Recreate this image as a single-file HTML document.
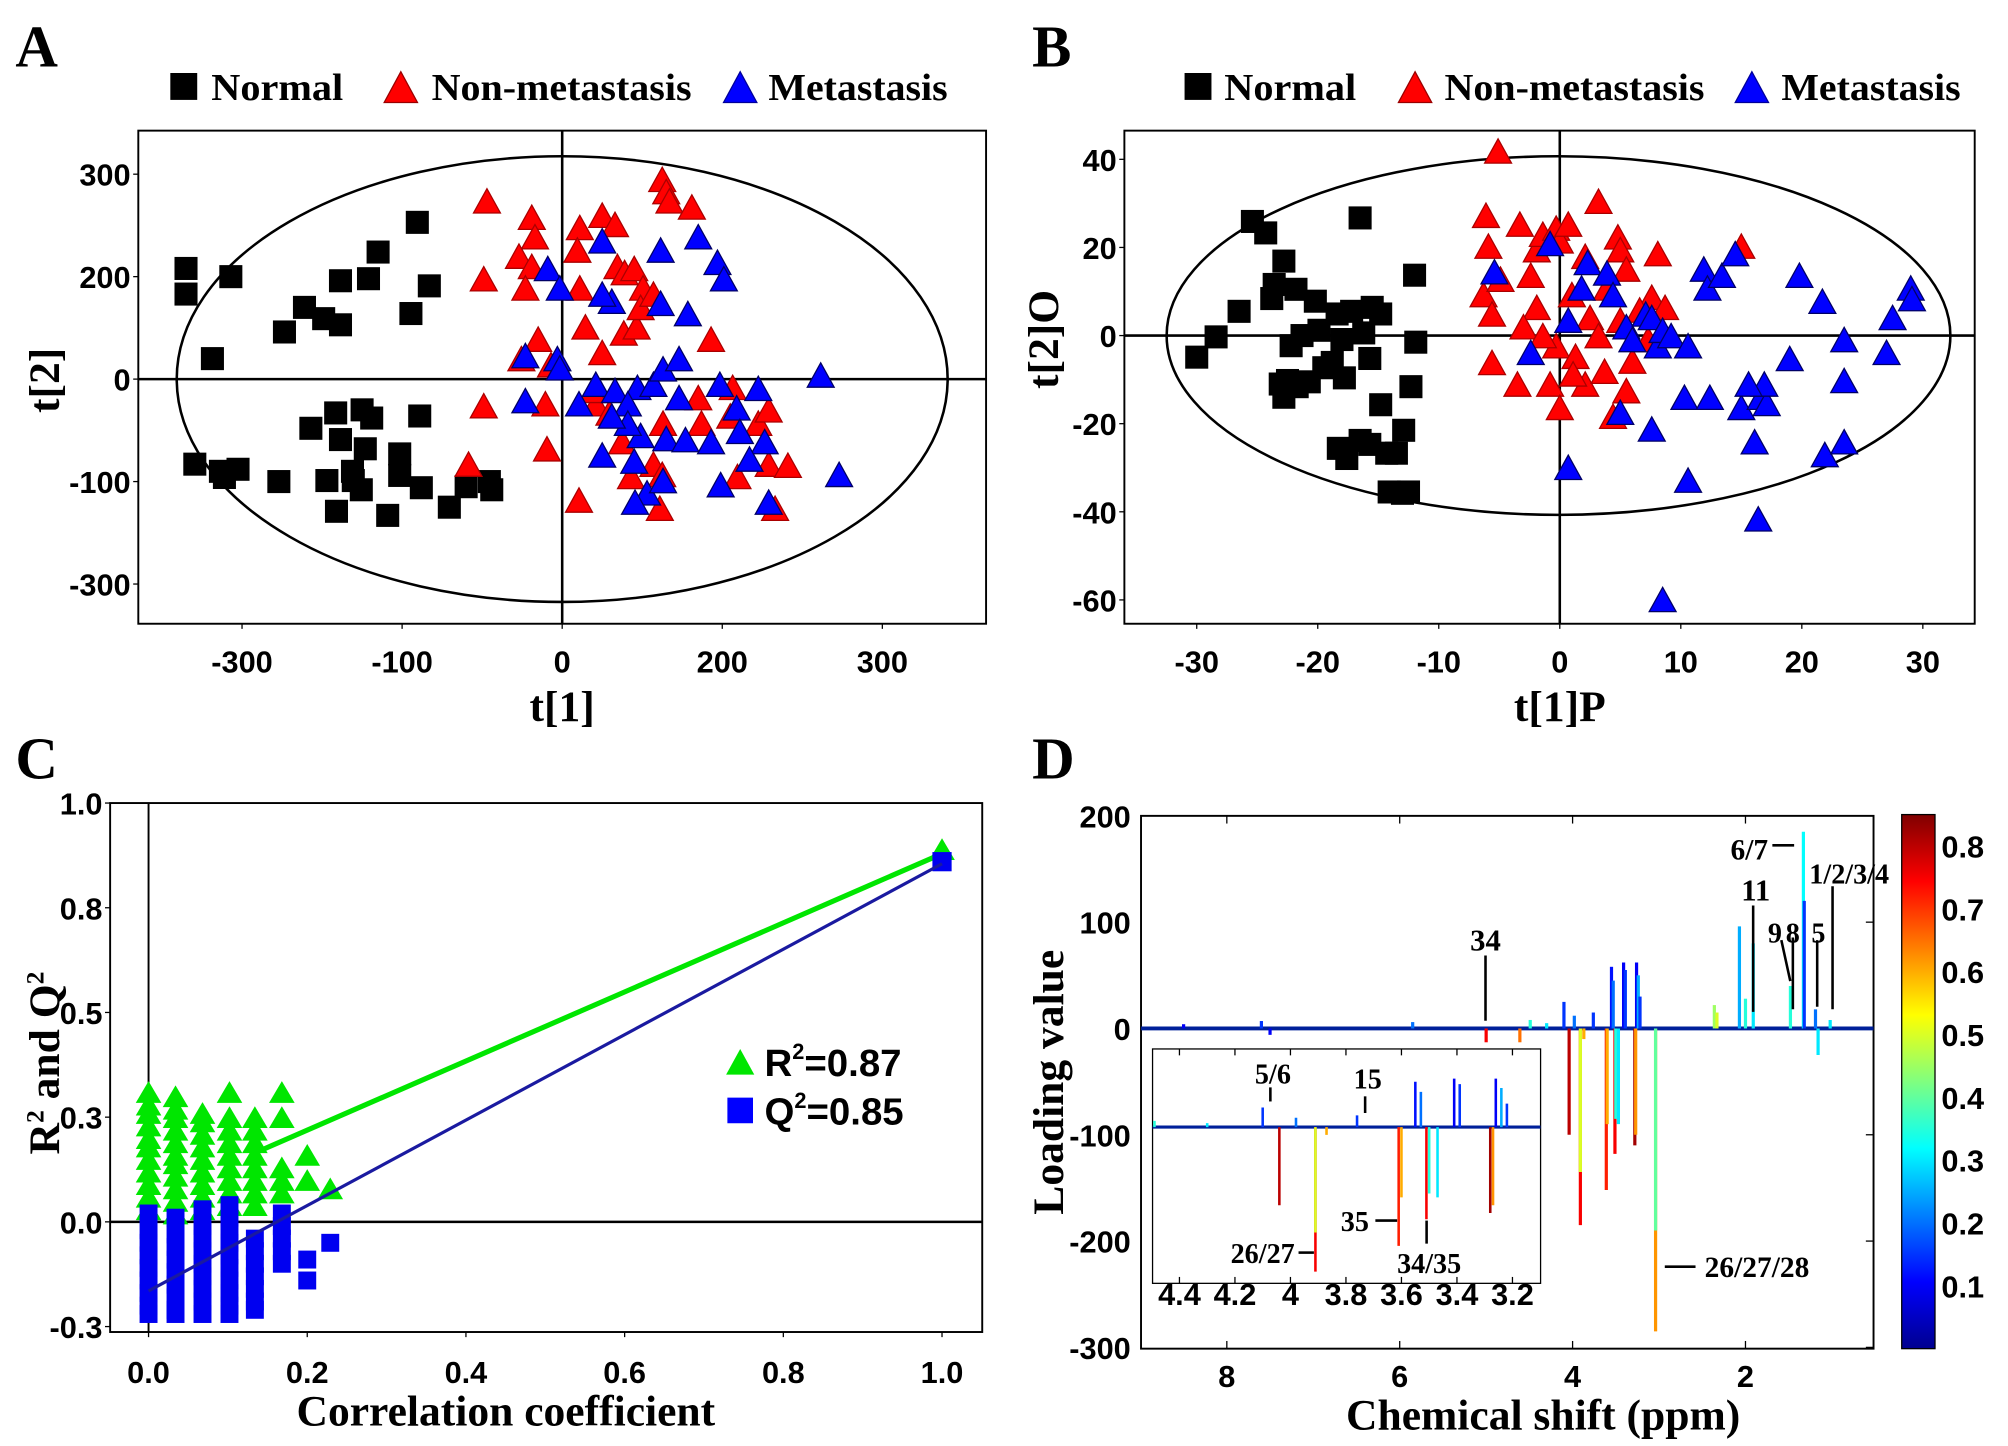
<!DOCTYPE html>
<html><head><meta charset="utf-8"><style>
html,body{margin:0;padding:0;background:#fff;}
svg{display:block;}
.tk{font-family:"Liberation Sans",sans-serif;font-weight:bold;font-size:24px;fill:#000;}
.lbl{font-family:"Liberation Serif",serif;font-weight:bold;fill:#000;}
</style></head><body>
<svg id="fig" xmlns="http://www.w3.org/2000/svg" width="2008" height="1446" viewBox="0 0 1568 1129" preserveAspectRatio="none">
<defs>
<linearGradient id="jetg" x1="0" y1="1" x2="0" y2="0">
<stop offset="0" stop-color="#00008f"/><stop offset="0.125" stop-color="#0000ff"/><stop offset="0.375" stop-color="#00ffff"/><stop offset="0.625" stop-color="#ffff00"/><stop offset="0.875" stop-color="#ff0000"/><stop offset="1" stop-color="#800000"/>
</linearGradient>
<clipPath id="clipInset"><rect x="900" y="819" width="303" height="183"/></clipPath>
<clipPath id="clipD"><rect x="891" y="637" width="572" height="416"/></clipPath>
</defs>
<rect x="0" y="0" width="1568" height="1129" fill="#fff"/>
<text class="lbl" x="12" y="52" font-size="46">A</text>
<text class="lbl" x="806" y="52" font-size="46">B</text>
<text class="lbl" x="12" y="608" font-size="46">C</text>
<text class="lbl" x="806" y="608" font-size="46">D</text>
<g>
<rect x="133" y="57" width="21" height="21" fill="#000"/>
<text class="lbl" x="165" y="78" font-size="30" textLength="103" lengthAdjust="spacingAndGlyphs">Normal</text>
<polygon points="300,80 326,80 313,56" fill="#f00" stroke="#900"/>
<text class="lbl" x="337" y="78" font-size="30" textLength="203" lengthAdjust="spacingAndGlyphs">Non-metastasis</text>
<polygon points="565,80 591,80 578,56" fill="#00f" stroke="#009"/>
<text class="lbl" x="600" y="78" font-size="30" textLength="140" lengthAdjust="spacingAndGlyphs">Metastasis</text>
</g>
<g>
<rect x="925" y="57" width="21" height="21" fill="#000"/>
<text class="lbl" x="956" y="78" font-size="30" textLength="103" lengthAdjust="spacingAndGlyphs">Normal</text>
<polygon points="1092,80 1118,80 1105,56" fill="#f00" stroke="#900"/>
<text class="lbl" x="1128" y="78" font-size="30" textLength="203" lengthAdjust="spacingAndGlyphs">Non-metastasis</text>
<polygon points="1355,80 1381,80 1368,56" fill="#00f" stroke="#009"/>
<text class="lbl" x="1391" y="78" font-size="30" textLength="140" lengthAdjust="spacingAndGlyphs">Metastasis</text>
</g>
<text class="lbl" x="439" y="563" font-size="34" text-anchor="middle">t[1]</text>
<text class="lbl" font-size="34" text-anchor="middle" transform="translate(46,297) rotate(-90)">t[2]</text>
<text class="lbl" x="1218" y="563" font-size="34" text-anchor="middle">t[1]P</text>
<text class="lbl" font-size="34" text-anchor="middle" transform="translate(826,265) rotate(-90)">t[2]O</text>
<text class="lbl" x="395" y="1113" font-size="34" text-anchor="middle">Correlation coefficient</text>
<text class="lbl" font-size="34" text-anchor="middle" transform="translate(46,830) rotate(-90)">R<tspan font-size="20" dy="-12">2</tspan><tspan dy="12"> and Q</tspan><tspan font-size="20" dy="-12">2</tspan></text>
<text class="lbl" x="1205" y="1116" font-size="34" text-anchor="middle">Chemical shift (ppm)</text>
<text class="lbl" font-size="34" text-anchor="middle" transform="translate(830,845) rotate(-90)">Loading value</text>
<g id="gA"></g>
<g id="gB"></g>
<g id="gC"></g>
<g id="gD"></g>
<g>
<polygon points="567,839 589,839 578,819" fill="#00e600"/>
<text x="597" y="840" font-size="30" font-family="Liberation Sans,sans-serif" font-weight="bold">R<tspan font-size="17" dy="-13">2</tspan><tspan dy="13">=0.87</tspan></text>
<rect x="568" y="857" width="20" height="20" fill="#00f"/>
<text x="597" y="878" font-size="30" font-family="Liberation Sans,sans-serif" font-weight="bold">Q<tspan font-size="17" dy="-13">2</tspan><tspan dy="13">=0.85</tspan></text>
</g>
</svg>
<script>
const normalA_x=[-470,-470,-414,-437,-459,-422,-427,-405,-347,-322,-277,-298,-277,-242,-230,-181,-189,-166,-314,-283,-277,-250,-238,-246,-262,-251,-261,-282,-294,-203,-218,-178,-203,-176,-141,-120,-91,-88,-354];
const normalA_y=[108,83,100,20,-83,-96,-90,-88,46,70,96,59,53,98,124,153,64,91,-48,-33,-59,-30,-38,-68,-90,-108,-99,-129,-99,-73,-133,-36,-94,-106,-125,-105,-100,-108,-100];
const nonmetA_x=[-94,-38,-34,-54,-38,-46,-98,22,19,22,-30,-51,-14,50,66,69,78,90,101,77,93,98,114,125,130,134,162,186,-98,-21,-19,-117,21,42,59,75,86,114,126,125,122,174,213,210,245,258,258,266,219,282,29,50,38,170];
const nonmetA_y=[174,158,139,120,110,89,98,148,126,89,39,20,14,160,151,110,104,108,89,45,51,70,83,195,183,174,168,39,-26,-24,-68,-83,-118,-24,-33,-61,-95,-83,-43,-93,-126,-43,-8,-36,-43,-83,-30,-126,-95,-84,51,26,-11,-18];
const metA_x=[50,-18,123,170,194,202,-3,123,157,62,50,-46,-6,-3,-46,21,42,66,94,82,114,126,146,98,130,154,186,197,218,222,245,253,323,346,50,90,106,91,126,198,234,258,82,146,62];
const metA_y=[135,108,126,139,114,98,89,74,64,76,83,23,20,11,-21,-24,-5,-11,-8,-24,-5,10,20,-55,-58,-59,-61,-5,-28,-51,-9,-61,4,-93,-74,-80,-111,-120,-99,-103,-78,-120,-43,-18,-36];
const tickA_x=[-400,-200,0,200,400], tickA_xl=["-300","-100","0","200","300"];
const tickA_y=[200,100,0,-100,-200], tickA_yl=["300","200","0","-100","-300"];
const normalB_x=[-30.0,-28.4,-26.5,-25.4,-24.3,-23.6,-23.8,-22.8,-21.8,-22.2,-22.5,-22.8,-21.7,-20.7,-19.9,-21.3,-20.2,-19.5,-18.8,-18.0,-18.4,-16.5,-16.2,-17.2,-15.5,-15.7,-18.3,-17.6,-16.5,-15.7,-14.3,-14.8,-13.5,-12.9,-12.3,-11.9,-12.0,-12.5,-14.1,-13.0,-14.8,-17.8,-23.1];
const normalB_y=[-4.9,-0.3,5.5,25.9,23.3,11.6,8.4,16.9,10.5,-2.3,-10.2,-14.0,-11.6,-10.5,1.2,0,7.8,-7.3,-6.1,-0.9,4.9,26.7,0.6,5.5,6.4,-5.2,-25.6,-27.9,-23.8,-24.7,-26.7,-15.7,-26.7,-21.5,-11.6,-1.5,13.7,-35.5,-35.5,-35.8,4.9,-9.6,-11.0];
const nonmetB_x=[-5.1,-6.1,-5.9,-6.3,-5.6,-5.6,-4.9,-3.3,-2.4,-1.9,-1.4,-0.3,0,0.7,2.1,3.2,4.8,5.0,3.9,5.5,7.6,8.1,7.3,2.5,-0.3,-1.9,-0.8,0,1.3,2.1,3.7,4.4,5.5,6.0,1.0,8.7,15.0,-3.0,-3.5,-1.4,1.1,3.2,5.0,6.6];
const nonmetB_y=[41.9,27.3,20.3,9.3,4.9,-6.1,12.8,25.3,13.7,19.5,23.0,24.4,21.5,25.3,18.0,30.5,22.4,19.5,10.8,15.1,8.7,18.6,-0.9,4.1,-2.3,6.4,-11.0,-16.3,-4.7,-11.0,-8.1,-18.3,-12.5,-5.8,9.3,6.4,20.3,2.0,-11.0,0,-8.7,0,3.5,5.8];
const metB_x=[-0.8,-5.4,-2.4,0.7,2.3,1.8,3.9,4.4,5.5,6.0,7.1,7.6,8.1,8.5,9.2,10.6,11.9,12.2,13.4,14.5,10.3,10.6,7.6,5.0,0.7,8.5,12.4,15.0,16.6,17.1,16.9,16.1,19.0,19.8,21.7,23.5,23.5,21.9,23.5,27.0,27.5,29.0,29.1,16.4,15.6];
const metB_y=[20.9,14.5,-3.8,3.5,16.6,10.8,14.2,9.3,2.0,-0.9,4.9,4.1,-2.3,1.2,0,-2.3,15.1,10.8,13.7,18.6,-14.0,-32.8,-21.2,-17.4,-29.9,-59.9,-14.0,-16.3,-14.0,-15.4,-11.0,-24.1,-5.2,13.7,7.8,-0.9,-10.2,-27.0,-24.1,-3.8,4.1,10.8,8.4,-41.6,-11.0];
const tickB_x=[-30,-20,-10,0,10,20,30];
const tickB_y=[40,20,0,-20,-40,-60];
const permCorr=[0,0.034,0.068,0.102,0.134,0.168,0.2,0.229];
const permR2=[[0.31,0.28,0.26,0.23,0.2,0.18,0.15,0.12,0.09,0.06,0.03],[0.30,0.27,0.25,0.22,0.19,0.16,0.14,0.11,0.08,0.05,0.02],[0.26,0.24,0.21,0.18,0.15,0.12,0.09,0.06,0.03],[0.31,0.25,0.22,0.19,0.16,0.13,0.10,0.07,0.04],[0.25,0.22,0.19,0.16,0.13,0.10,0.07,0.04],[0.31,0.25,0.13,0.10,0.07],[0.16,0.10],[0.08]];
const permQ2=[[0.02,-0.02,-0.05,-0.08,-0.11,-0.14,-0.17,-0.20,-0.22],[0.01,-0.03,-0.06,-0.09,-0.12,-0.15,-0.18,-0.21,-0.22],[0.03,-0.01,-0.04,-0.07,-0.10,-0.13,-0.16,-0.19,-0.22],[0.04,0.01,-0.02,-0.05,-0.08,-0.11,-0.14,-0.17,-0.20,-0.22],[-0.04,-0.07,-0.10,-0.13,-0.16,-0.19,-0.21],[0.02,-0.01,-0.04,-0.07,-0.10],[-0.09,-0.14],[-0.05]];
const origCorr=1.0, origR2=0.89, origQ2=0.86;
const r2Fit=[0.054,0.825], q2Fit=[-0.165,1.02];
const tickC_x=[0,0.2,0.4,0.6,0.8,1.0], tickC_xl=["0.0","0.2","0.4","0.6","0.8","1.0"];
const tickC_y=[1.0,0.75,0.5,0.25,0,-0.25], tickC_yl=["1.0","0.8","0.5","0.3","0.0","-0.3"];
const peakPpm=[8.5,7.6,7.5,5.85,4.49,4.3,4.1,3.98,3.76,3.55,3.53,3.41,3.39,3.26,3.24,3.22,2.36,2.33,2.07,2.0,1.91,1.48,1.33,1.32,1.19,1.02,5.0,4.61,4.04,3.91,3.91,3.87,3.61,3.6,3.51,3.5,3.47,3.28,3.27,3.04,3.04,1.16];
const peakVal=[4,7,-6,6,8,5,25,12,15,58,45,62,55,62,50,30,22,15,96,28,80,40,185,120,18,8,-13,-13,-100,-185,-135,-10,-152,-90,-118,-85,-90,-110,-100,-285,-190,-25];
const peakCorr=[0.1,0.15,0.1,0.2,0.35,0.3,0.15,0.2,0.15,0.12,0.2,0.1,0.15,0.1,0.25,0.15,0.45,0.5,0.25,0.35,0.3,0.35,0.32,0.15,0.2,0.3,0.75,0.65,0.8,0.75,0.5,0.6,0.72,0.6,0.75,0.35,0.3,0.82,0.62,0.62,0.4,0.3];
const tickD_x=[8,6,4,2], tickD_y=[200,100,0,-100,-200,-300];
const tickIn_x=[4.4,4.2,4.0,3.8,3.6,3.4,3.2], tickIn_xl=["4.4","4.2","4","3.8","3.6","3.4","3.2"];
const cbTicks=[0.8,0.7,0.6,0.5,0.4,0.3,0.2,0.1];

const NS="http://www.w3.org/2000/svg";
function mk(tag,attrs,parent){const e=document.createElementNS(NS,tag);for(const k in attrs)e.setAttribute(k,attrs[k]);parent.appendChild(e);return e;}
function txt(s,attrs,parent){const e=mk('text',attrs,parent);e.textContent=s;return e;}
function jet(c){const t=Math.max(0,Math.min(1,c/0.85));const f=v=>Math.round(255*Math.max(0,Math.min(1,v)));return `rgb(${f(1.5-Math.abs(4*t-3))},${f(1.5-Math.abs(4*t-2))},${f(1.5-Math.abs(4*t-1))})`;}
function sq(g,cx,cy,s,fill,name){const e=mk('rect',{x:cx-s/2,y:cy-s/2,width:s,height:s,fill:fill},g);

}
function tri(g,cx,cy,w,h,fill,stroke,name){const e=mk('polygon',{points:`${cx-w/2},${cy+h/2} ${cx+w/2},${cy+h/2} ${cx},${cy-h/2}`,fill:fill,stroke:stroke,'stroke-width':1},g);

}

(function(){
const g=document.getElementById('gA');
const X0=108,X1=770,Y0=102,Y1=487;
const sx=v=>439+v*0.625, sy=v=>296-v*0.8;
let e=mk('rect',{x:X0,y:Y0,width:X1-X0,height:Y1-Y0,fill:'none',stroke:'#000','stroke-width':1.5},g);


e=mk('ellipse',{cx:439,cy:296,rx:301,ry:174,fill:'none',stroke:'#000','stroke-width':2},g);


e=mk('line',{x1:X0,y1:sy(0),x2:X1,y2:sy(0),stroke:'#000','stroke-width':2},g);


e=mk('line',{x1:sx(0),y1:Y0,x2:sx(0),y2:Y1,stroke:'#000','stroke-width':2},g);


tickA_x.forEach((v,i)=>{const l=mk('line',{x1:sx(v),y1:Y1,x2:sx(v),y2:Y1+4,stroke:'#000'},g);


const t=txt(tickA_xl[i],{x:sx(v),y:Y1+38,'text-anchor':'middle',class:'tk'},g);

});
tickA_y.forEach((v,i)=>{const l=mk('line',{x1:X0-4,y1:sy(v),x2:X0,y2:sy(v),stroke:'#000'},g);


const t=txt(tickA_yl[i],{x:X0-6,y:sy(v)+9,'text-anchor':'end',class:'tk'},g);

});
normalA_x.forEach((v,i)=>sq(g,sx(v),sy(normalA_y[i]),18,'#000','normal-point-a'));
nonmetA_x.forEach((v,i)=>tri(g,sx(v),sy(nonmetA_y[i]),21,19,'#f00','#a00','nonmetastasis-point-a'));
metA_x.forEach((v,i)=>tri(g,sx(v),sy(metA_y[i]),21,19,'#00f','#006','metastasis-point-a'));
})();

(function(){
const g=document.getElementById('gB');
const X0=878,X1=1542,Y0=102,Y1=487;
const sx=v=>1218+v*9.45, sy=v=>262-v*3.44;
let e=mk('rect',{x:X0,y:Y0,width:X1-X0,height:Y1-Y0,fill:'none',stroke:'#000','stroke-width':1.5},g);


e=mk('ellipse',{cx:1217,cy:262,rx:306,ry:140,fill:'none',stroke:'#000','stroke-width':2},g);


e=mk('line',{x1:X0,y1:sy(0),x2:X1,y2:sy(0),stroke:'#000','stroke-width':2},g);


e=mk('line',{x1:sx(0),y1:Y0,x2:sx(0),y2:Y1,stroke:'#000','stroke-width':2},g);


tickB_x.forEach(v=>{const l=mk('line',{x1:sx(v),y1:Y1,x2:sx(v),y2:Y1+4,stroke:'#000'},g);


const t=txt(String(v),{x:sx(v),y:Y1+38,'text-anchor':'middle',class:'tk'},g);

});
tickB_y.forEach(v=>{const l=mk('line',{x1:X0-4,y1:sy(v),x2:X0,y2:sy(v),stroke:'#000'},g);


const t=txt(String(v),{x:X0-6,y:sy(v)+9,'text-anchor':'end',class:'tk'},g);

});
normalB_x.forEach((v,i)=>sq(g,sx(v),sy(normalB_y[i]),18,'#000','normal-point-b'));
nonmetB_x.forEach((v,i)=>tri(g,sx(v),sy(nonmetB_y[i]),21,19,'#f00','#a00','nonmetastasis-point-b'));
metB_x.forEach((v,i)=>tri(g,sx(v),sy(metB_y[i]),21,19,'#00f','#006','metastasis-point-b'));
})();

(function(){
const g=document.getElementById('gC');
const X0=86,X1=767,Y0=627,Y1=1040;
const sx=v=>116+v*619.6, sy=v=>954-v*327;
let e=mk('rect',{x:X0,y:Y0,width:X1-X0,height:Y1-Y0,fill:'none',stroke:'#000','stroke-width':1.5},g);


e=mk('line',{x1:X0,y1:sy(0),x2:X1,y2:sy(0),stroke:'#000','stroke-width':2},g);


e=mk('line',{x1:sx(0),y1:Y0,x2:sx(0),y2:Y1,stroke:'#000','stroke-width':1.5},g);


tickC_x.forEach((v,i)=>{const l=mk('line',{x1:sx(v),y1:Y1,x2:sx(v),y2:Y1+4,stroke:'#000'},g);


const t=txt(tickC_xl[i],{x:sx(v),y:Y1+40,'text-anchor':'middle',class:'tk'},g);

});
tickC_y.forEach((v,i)=>{const l=mk('line',{x1:X0-4,y1:sy(v),x2:X0,y2:sy(v),stroke:'#000'},g);


const t=txt(tickC_yl[i],{x:X0-6,y:sy(v)+9,'text-anchor':'end',class:'tk'},g);

});
permCorr.forEach((c,i)=>permR2[i].forEach(v=>tri(g,sx(c),sy(v),20,17,'#00e600','none','r2-permutation-point')));
tri(g,sx(origCorr),sy(origR2),20,17,'#00e600','none','r2-original-point');
let l=mk('line',{x1:sx(0.142),y1:sy(r2Fit[0]+r2Fit[1]*0.142),x2:sx(1),y2:sy(r2Fit[0]+r2Fit[1]),stroke:'#00e600','stroke-width':4},g);


permCorr.forEach((c,i)=>permQ2[i].forEach(v=>sq(g,sx(c),sy(v),14,'#0000f0','q2-permutation-point')));
sq(g,sx(origCorr),sy(origQ2),15,'#0000f0','q2-original-point');
l=mk('line',{x1:sx(0),y1:sy(q2Fit[0]),x2:sx(1),y2:sy(q2Fit[0]+q2Fit[1]),stroke:'#1a1aa0','stroke-width':2.5},g);


})();

(function(){
const g=document.getElementById('gD');
const X0=891,X1=1463,Y0=637,Y1=1053;
const sx=p=>958+(8-p)*67.5, sy=v=>803-v*0.83;
let e=mk('rect',{x:X0,y:Y0,width:X1-X0,height:Y1-Y0,fill:'none',stroke:'#000','stroke-width':1.5},g);


tickD_x.forEach(v=>{const l=mk('line',{x1:sx(v),y1:Y1,x2:sx(v),y2:Y1-6,stroke:'#000'},g);


const l2=mk('line',{x1:sx(v),y1:Y0,x2:sx(v),y2:Y0+6,stroke:'#000'},g);


const t=txt(String(v),{x:sx(v),y:Y1+30,'text-anchor':'middle',class:'tk','font-size':27},g);

});
tickD_y.forEach(v=>{const l=mk('line',{x1:X1-6,y1:sy(v),x2:X1,y2:sy(v),stroke:'#000'},g);


const t=txt(String(v),{x:X0-8,y:sy(v)+9,'text-anchor':'end',class:'tk'},g);

});
const cg=mk('g',{'clip-path':'url(#clipD)'},g);


let b=mk('line',{x1:X0,y1:sy(0),x2:X1,y2:sy(0),stroke:'#00209a','stroke-width':3},cg);


peakPpm.forEach((p,i)=>{const l=mk('line',{x1:sx(p),y1:sy(0),x2:sx(p),y2:sy(peakVal[i]),stroke:jet(peakCorr[i]),'stroke-width':2.5},cg);

});
const ix=p=>921+(4.4-p)*216.7, iy=v=>880-v*0.61;
const ig=mk('g',{},g);


e=mk('rect',{x:900,y:819,width:303,height:183,fill:'#fff',stroke:'#000','stroke-width':1},ig);


const icg=mk('g',{'clip-path':'url(#clipInset)'},ig);
b=mk('line',{x1:900,y1:iy(0),x2:1203,y2:iy(0),stroke:'#00209a','stroke-width':2.5},icg);


peakPpm.forEach((p,i)=>{if(p<3.1||p>4.5)return;const l=mk('line',{x1:ix(p),y1:iy(0),x2:ix(p),y2:iy(peakVal[i]),stroke:jet(peakCorr[i]),'stroke-width':2},icg);

});
tickIn_x.forEach((v,i)=>{const l=mk('line',{x1:ix(v),y1:1002,x2:ix(v),y2:997,stroke:'#000'},ig);


const l2=mk('line',{x1:ix(v),y1:819,x2:ix(v),y2:824,stroke:'#000'},ig);


const t=txt(tickIn_xl[i],{x:ix(v),y:1019,'text-anchor':'middle',class:'tk','font-size':16},ig);

});
e=mk('rect',{x:1485,y:636,width:26,height:417,fill:'url(#jetg)',stroke:'#000','stroke-width':1},g);


cbTicks.forEach(v=>{const y=1053-v*490.6;const t=txt(v.toFixed(1),{x:1516,y:y+9,class:'tk'},g);

});
const ann=[["34",1160,742,24],["11",1371,703,24],["6/7",1366,671,23],["1/2/3/4",1444,690,22],["9",1386,736,22],["8",1400,736,22],["5",1420,736,22],["26/27/28",1372,997,23],["5/6",994,846,22],["15",1068,850,22],["35",1058,961,22],["34/35",1116,994,22],["26/27",986,986,22]];
ann.forEach(a=>{const t=txt(a[0],{x:a[1],y:a[2],'text-anchor':'middle',class:'lbl','font-size':a[3]},g);

});
const segs=[[1160,746,1160,797],[1369,707,1369,790],[1384,660,1401,660],[1431,692,1431,788],[1391,734,1398,766],[1400,732,1400,788],[1419,734,1419,786],[1300,989,1324,989],[992,849,992,860],[1066,856,1066,869],[1074,953,1091,953],[1114,953,1114,971],[1014,978,1026,978]];
segs.forEach(s=>{const l=mk('line',{x1:s[0],y1:s[1],x2:s[2],y2:s[3],stroke:'#000','stroke-width':2},g);

});
})();
</script>
</body></html>
